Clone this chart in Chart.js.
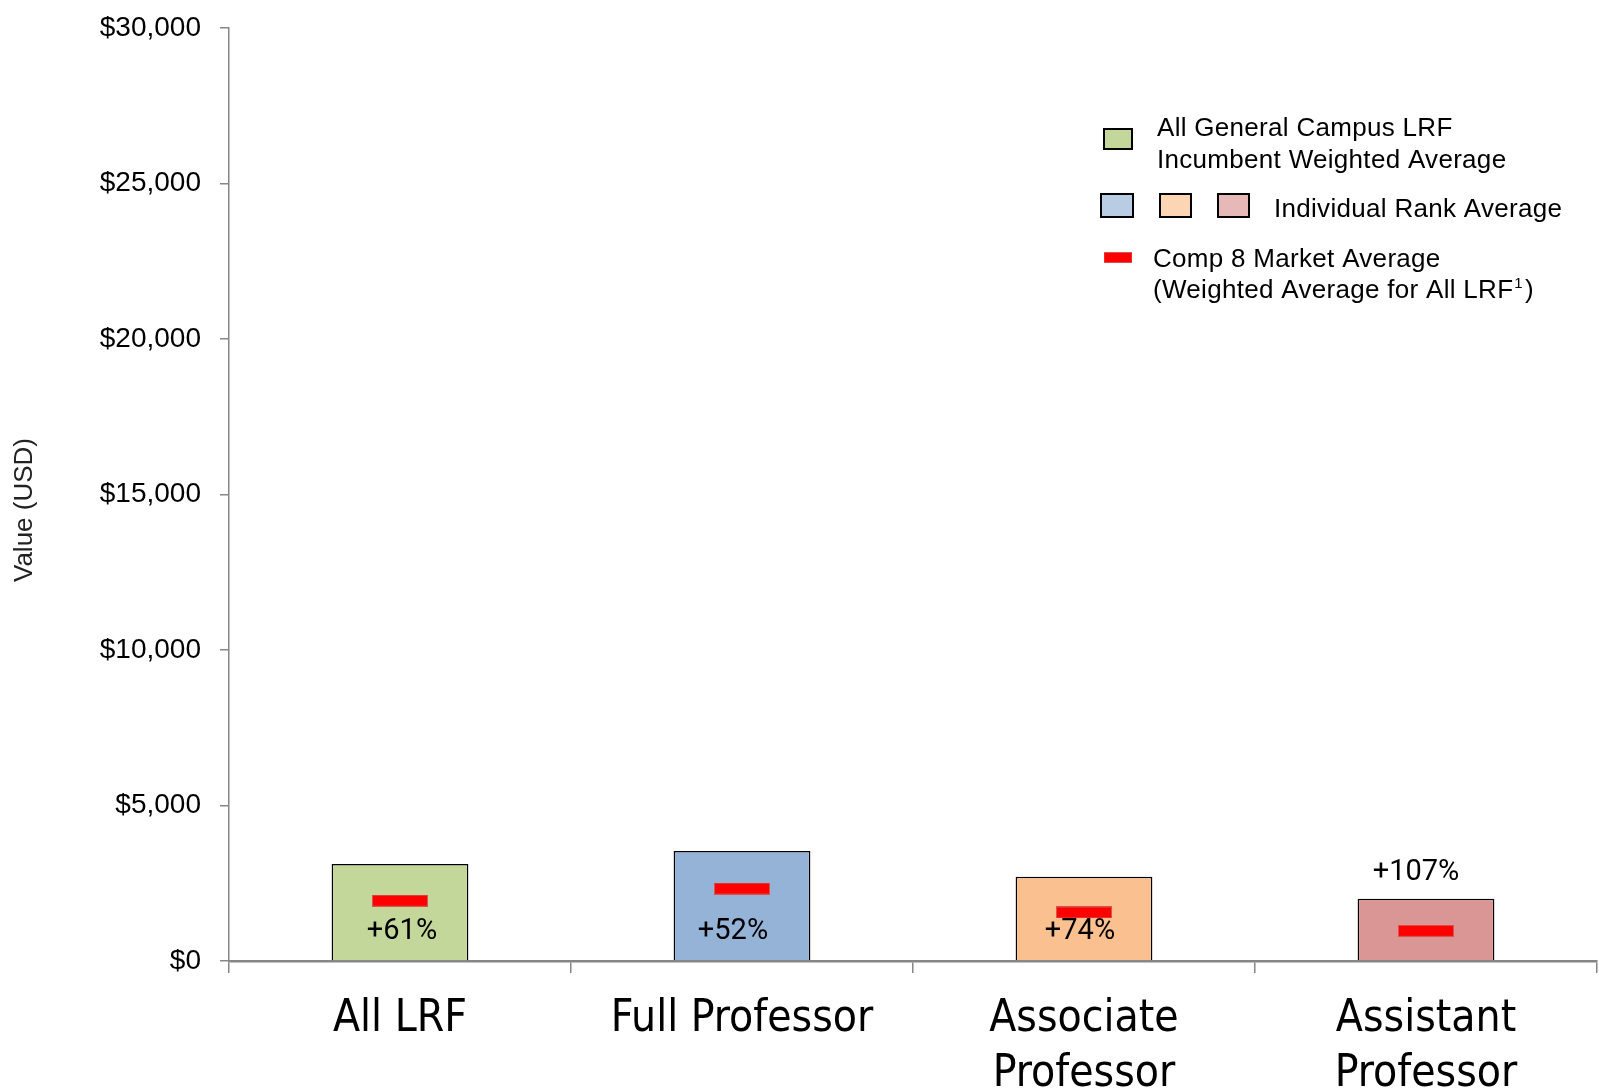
<!DOCTYPE html>
<html>
<head>
<meta charset="utf-8">
<title>LRF comparison</title>
<script src="https://cdn.jsdelivr.net/npm/chart.js@4.4.1/dist/chart.umd.min.js"></script>
<style>
  html, body { margin: 0; padding: 0; background: #fff; }
  #wrap { width: 1599px; height: 1092px; position: relative; }
</style>
</head>
<body>
<div id="wrap"><canvas id="chart"></canvas></div>
<script>
// data
const categories = ['All LRF', 'Full Professor', ['Associate', 'Professor'], ['Assistant', 'Professor']];
const incumbentAverage = [3120, 3540, 2710, 2000];
const marketAverage = [1940, 2330, 1560, 970];
const diffLabels = ['+61%', '+52%', '+74%', '+107%'];
const yTicks = [0, 5000, 10000, 15000, 20000, 25000, 30000];

const barColors = ['#C4D79B', '#95B3D7', '#FAC090', '#DA9694'];
const legendColors = ['#C4D79B', '#B8CCE4', '#FCD5B4', '#E6B8B7'];

// red dash used as the point style for the market average
const dash = document.createElement('canvas');
dash.width = 56;
dash.height = 12;
const dctx = dash.getContext('2d');
dctx.fillStyle = '#D9534F';
dctx.fillRect(0, 0, 56, 12);
dctx.fillStyle = '#FF0000';
dctx.fillRect(1, 1, 54, 10);

const sans = '"Liberation Sans", Arial, sans-serif';

const diffLabelPlugin = {
  id: 'diffLabels',
  afterDatasetsDraw(chart) {
    const ctx = chart.ctx;
    const bars = chart.getDatasetMeta(1).data;
    const base = chart.scales.y.getPixelForValue(0);
    const shift = [2, -9, -4, -10];
    ctx.save();
    ctx.font = '29px Roboto, sans-serif';
    ctx.fillStyle = '#000';
    ctx.textAlign = 'center';
    ctx.textBaseline = 'middle';
    bars.forEach((bar, i) => {
      // the last bar is too short, its label sits above it
      const y = i === 3 ? bar.y - 26 : base - 29;
      ctx.fillText(diffLabels[i], bar.x + shift[i], y);
    });
    ctx.restore();
  },
};

// y title sits a bit below the middle of the axis in the original
const yTitlePlugin = {
  id: 'yTitle',
  afterDraw(chart) {
    const ctx = chart.ctx;
    ctx.save();
    ctx.translate(25, 510);
    ctx.rotate(-Math.PI / 2);
    ctx.font = '26px ' + sans;
    ctx.fillStyle = '#222';
    ctx.textAlign = 'center';
    ctx.textBaseline = 'middle';
    ctx.fillText('Value (USD)', 0, 0);
    ctx.restore();
  },
};

const legendPlugin = {
  id: 'customLegend',
  afterDraw(chart) {
    const ctx = chart.ctx;
    ctx.save();
    ctx.lineWidth = 2;
    ctx.strokeStyle = '#000';
    const box = (x, y, w, h, color) => {
      ctx.fillStyle = color;
      ctx.fillRect(x, y, w, h);
      ctx.strokeRect(x, y, w, h);
    };
    box(1104, 129, 28, 20, legendColors[0]);
    box(1101, 194, 32, 23, legendColors[1]);
    box(1160, 194, 31, 23, legendColors[2]);
    box(1218, 194, 31, 23, legendColors[3]);
    ctx.drawImage(dash, 1104, 252, 28, 11);

    ctx.fillStyle = '#000';
    ctx.font = '26px ' + sans;
    ctx.letterSpacing = '0.3px';
    ctx.textAlign = 'left';
    ctx.textBaseline = 'alphabetic';
    ctx.fillText('All General Campus LRF', 1157, 136);
    ctx.fillText('Incumbent Weighted Average', 1157, 168);
    ctx.fillText('Individual Rank Average', 1274, 217);
    ctx.fillText('Comp 8 Market Average', 1153, 267);
    const line = '(Weighted Average for All LRF';
    ctx.fillText(line, 1153, 298);
    const w = ctx.measureText(line).width;
    ctx.font = '15px ' + sans;
    ctx.fillText('1', 1153 + w + 1, 288);
    const w1 = ctx.measureText('1').width;
    ctx.font = '26px ' + sans;
    ctx.fillText(')', 1153 + w + w1 + 3, 298);
    ctx.restore();
  },
};

new Chart(document.getElementById('chart'), {
  data: {
    labels: categories,
    datasets: [
      {
        type: 'line',
        label: 'Comp 8 Market Average',
        data: marketAverage,
        showLine: false,
        pointStyle: dash,
        order: 0,
      },
      {
        type: 'bar',
        label: 'Incumbent Weighted Average',
        data: incumbentAverage,
        backgroundColor: barColors,
        borderColor: '#000',
        borderWidth: 1.5,
        barPercentage: 0.4,
        categoryPercentage: 1,
        order: 1,
      },
    ],
  },
  options: {
    responsive: true,
    maintainAspectRatio: false,
    animation: false,
    layout: {autoPadding: false, padding: {top: 28, right: 2, left: 0, bottom: 0}},
    plugins: {
      legend: {display: false},
      tooltip: {enabled: false},
    },
    scales: {
      x: {
        offset: true,
        grid: {
          offset: true,
          drawOnChartArea: false,
          color: '#868686',
          tickLength: 12,
          lineWidth: 1.5,
        },
        border: {color: '#868686', width: 2.5},
        ticks: {
          color: '#000',
          padding: 20,
          maxRotation: 0,
          font: {family: '"Liberation Sans Narrow", "DejaVu Sans Condensed", sans-serif', size: 44, lineHeight: 1.23},
        },
        afterFit(scale) {
          scale.height = 131;
          scale.paddingLeft = 0;
          scale.paddingRight = 0;
        },
      },
      y: {
        min: 0,
        max: 30000,
        afterBuildTicks(scale) { scale.ticks = yTicks.map(v => ({value: v})); },
        grid: {
          drawOnChartArea: false,
          color: '#868686',
          tickLength: 9,
          lineWidth: 1.5,
        },
        border: {color: '#868686', width: 1.5},
        ticks: {
          color: '#000',
          padding: 19,
          font: {family: sans, size: 28},
          callback: v => '$' + v.toLocaleString('en-US'),
        },
        afterFit(scale) {
          scale.width = 229;
          scale.paddingTop = 0;
          scale.paddingBottom = 0;
        },
      },
    },
  },
  plugins: [diffLabelPlugin, legendPlugin, yTitlePlugin],
});
</script>
</body>
</html>
